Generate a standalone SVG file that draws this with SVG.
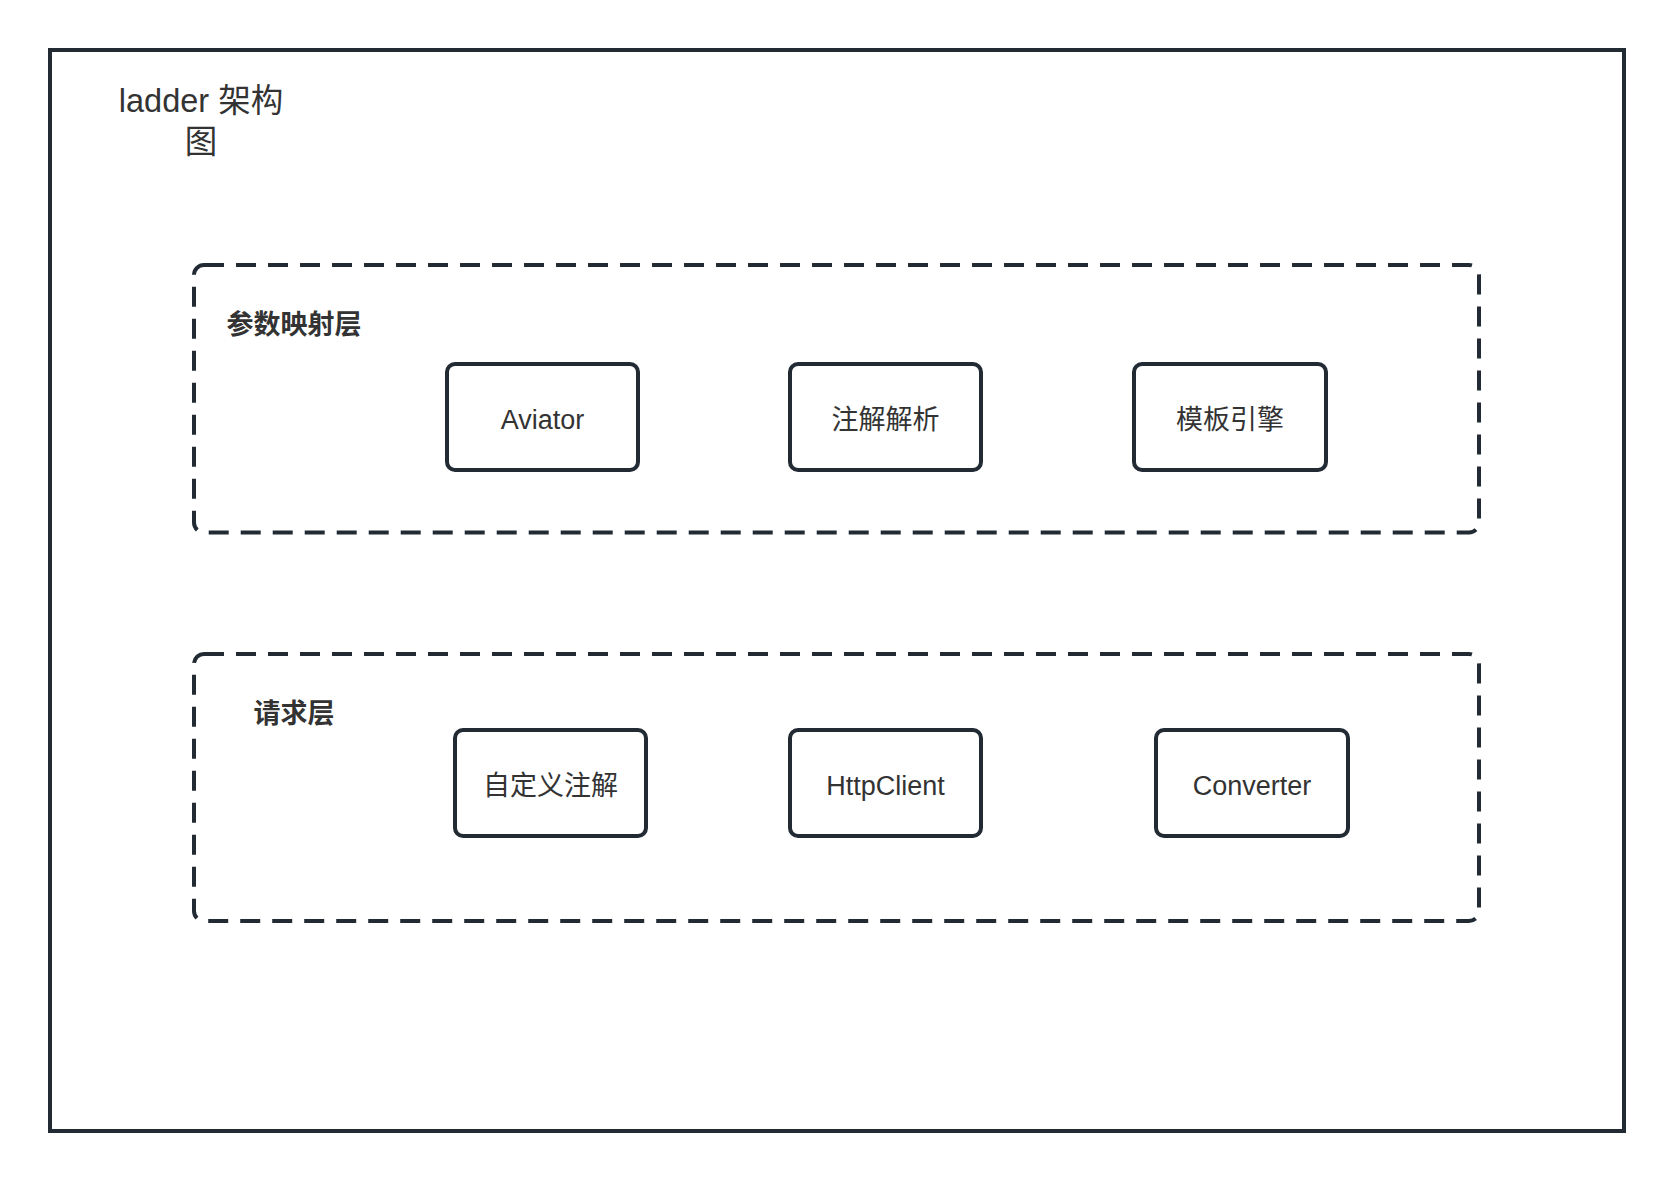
<svg xmlns="http://www.w3.org/2000/svg" width="1674" height="1182" viewBox="0 0 1674 1182">
<style>
.frame{fill:#ffffff;stroke:#222a33;stroke-width:4}
.layer{fill:none;stroke:#222a33;stroke-width:4;stroke-dasharray:20 12}
.node{fill:#ffffff;stroke:#222a33;stroke-width:4}
.t{font-family:"Liberation Sans","Noto Sans CJK SC",sans-serif;fill:#333333;text-anchor:middle}
.nt{font-size:27px}
.lt{font-size:27px;font-weight:bold}
.title{font-size:32.5px}
</style>
<rect width="1674" height="1182" fill="#ffffff"/>
<g id="frame">
<rect class="frame" x="50" y="50" width="1574" height="1081"/>
<text class="t title" x="201" y="112">ladder 架构</text>
<text class="t title" x="201" y="153">图</text>
</g>
<g id="layer-param">
<rect class="layer" x="194" y="265" width="1285" height="267.5" rx="10"/>
<text class="t lt" x="294" y="334">参数映射层</text>
</g>
<g id="layer-request">
<rect class="layer" x="194" y="654" width="1285" height="267" rx="10"/>
<text class="t lt" x="294" y="723">请求层</text>
</g>
<g id="node-aviator">
<rect class="node" x="447" y="364" width="191" height="106" rx="8"/>
<text class="t nt" x="542.5" y="429">Aviator</text>
</g>
<g id="node-annotation-parse">
<rect class="node" x="790" y="364" width="191" height="106" rx="8"/>
<text class="t nt" x="885.5" y="429">注解解析</text>
</g>
<g id="node-template">
<rect class="node" x="1134" y="364" width="192" height="106" rx="8"/>
<text class="t nt" x="1230" y="429">模板引擎</text>
</g>
<g id="node-custom-annotation">
<rect class="node" x="455" y="730" width="191" height="106" rx="8"/>
<text class="t nt" x="550.5" y="795">自定义注解</text>
</g>
<g id="node-httpclient">
<rect class="node" x="790" y="730" width="191" height="106" rx="8"/>
<text class="t nt" x="885.5" y="795">HttpClient</text>
</g>
<g id="node-converter">
<rect class="node" x="1156" y="730" width="192" height="106" rx="8"/>
<text class="t nt" x="1252" y="795">Converter</text>
</g>
<g id="connectors"></g>
</svg>
